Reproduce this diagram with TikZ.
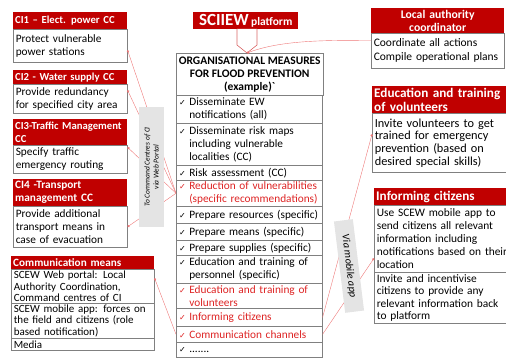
\documentclass[tikz,border=0pt]{standalone}
\usepackage{fontspec}
\setmainfont{Carlito}
\newfontfamily\symfont{DejaVu Sans}
\usepackage{tikz}
\usetikzlibrary{arrows.meta}

\definecolor{hdred}{RGB}{192,0,0}
\definecolor{txtred}{RGB}{222,36,36}
\definecolor{lnred}{RGB}{238,120,120}
\definecolor{boxgray}{RGB}{128,128,128}
\definecolor{lblgray}{RGB}{228,228,228}

\newcommand{\ck}{\llap{{\symfont\fontsize{8}{8}\selectfont ✓}\hspace{3.5pt}}}

\tikzset{
  hdr/.style={fill=hdred, text=white, anchor=north west, align=left,
    inner xsep=2pt, inner ysep=0pt, font=\bfseries\fontsize{10.7}{12.5}\selectfont},
  body/.style={draw=boxgray, line width=0.6pt, fill=white, anchor=north west, align=left,
    inner xsep=2.5pt, inner ysep=0pt, font=\fontsize{11.3}{13}\selectfont},
  row/.style={body, text width=144pt, inner xsep=1pt,
    execute at begin node={\leftskip=12pt\ck}},
  rowred/.style={row, text=txtred},
  conn/.style={draw=lnred, line width=0.4pt, {Circle[length=2.4pt]}-},
  via/.style={fill=lblgray, align=center, inner sep=1pt, font=\itshape\fontsize{7.5}{9}\selectfont},
}

\begin{document}
\begin{tikzpicture}[x=1pt,y=-1pt]
\useasboundingbox (0,0) rectangle (506,358);
\clip (0,0) rectangle (506,358);
% Centros de comando
\node[hdr, text width=110pt, minimum height=17pt] (ci1h) at (13,12) {CI1 -- Elect. power CC};
\node[body, text width=109pt, minimum height=33pt] (ci1b) at (13,29) {Protect vulnerable\\power stations};
\node[hdr, text width=110pt, minimum height=14pt] (ci2h) at (13,70) {CI2 - Water supply CC};
\node[body, text width=109pt, minimum height=29pt] (ci2b) at (13,84) {Provide redundancy\\for specified city area};
\node[hdr, text width=110pt, minimum height=26pt] (ci3h) at (13,119) {CI3-Traffic Management\\CC};
\node[body, text width=109pt, minimum height=28pt] (ci3b) at (13,145) {Specify traffic\\emergency routing};
\node[hdr, text width=110pt, minimum height=27pt, font=\bfseries\fontsize{11.3}{13}\selectfont] (ci4h) at (13,179) {CI4 -Transport\\management CC};
\node[body, text width=109pt, minimum height=41pt] (ci4b) at (13,206) {Provide additional\\transport means in\\case of evacuation};
% Meios de comunicacao
\node[hdr, text width=139pt, minimum height=13pt, font=\bfseries\fontsize{11.2}{12}\selectfont] (cmh) at (11,256) {Communication means};
\node[body, text width=138pt, minimum height=34pt, font=\fontsize{11}{11.7}\selectfont] (cm1) at (11,269) {SCEW Web portal: Local\\Authority Coordination,\\Command centres of CI};
\node[body, text width=138pt, minimum height=35pt, font=\fontsize{11}{11.7}\selectfont] (cm2) at (11,303) {SCEW mobile app: forces on\\the field and citizens (role\\based notification)};
\node[body, text width=138pt, minimum height=12pt, font=\fontsize{11}{11.7}\selectfont] (cm3) at (11,338) {Media};
% Plataforma
\node[fill=hdred, text=white, anchor=north west, minimum width=105pt, minimum height=17pt, inner sep=0pt, font=\bfseries] (sciiew) at (193,12) {{\fontsize{17}{17}\selectfont SCIIEW} {\fontsize{11.5}{11.5}\selectfont platform}};
\coordinate (tip) at (247,53);
\draw[draw=hdred!60, fill=white, line width=0.6pt] (237,29) -- (237,45) -- (tip) -- (257,45) -- (257,29);
% Medidas
\node[body, minimum width=146pt, align=center, minimum height=42pt, font=\bfseries\fontsize{11.5}{13}\selectfont] (om) at (176,53) {ORGANISATIONAL MEASURES\\FOR FLOOD PREVENTION\\(example)\textasciigrave};
\node[row, minimum height=28pt] (r1) at (176,95) {Disseminate EW\\notifications (all)};
\node[row, minimum height=42pt] (r2) at (176,123) {Disseminate risk maps\\including vulnerable\\localities (CC)};
\node[row, minimum height=15pt] (r3) at (176,165) {Risk assessment (CC)};
\node[rowred, minimum height=26pt] (rRed) at (176,180) {Reduction of vulnerabilities\\(specific recommendations)};
\node[row, minimum height=17pt] (r5) at (176,206) {Prepare resources (specific)};
\node[row, minimum height=17pt] (r6) at (176,223) {Prepare means (specific)};
\node[row, minimum height=15pt] (r7) at (176,240) {Prepare supplies (specific)};
\node[row, minimum height=28pt] (r8) at (176,255) {Education and training of\\personnel (specific)};
\node[rowred, minimum height=25pt] (rVol) at (176,283) {Education and training of\\volunteers};
\node[rowred, minimum height=18pt] (rInf) at (176,308) {Informing citizens};
\node[rowred, minimum height=16pt] (rComm) at (176,326) {Communication channels};
\node[row, minimum height=15pt] (r12) at (176,342) {.......};
% Coordenador e cidadaos
\node[hdr, align=center, text width=129pt, minimum height=25pt, font=\bfseries\fontsize{11.7}{12.5}\selectfont] (lah) at (371,8) {Local authority\\coordinator};
\node[body, text width=128pt, minimum height=35pt, font=\fontsize{11.5}{14}\selectfont] (lab) at (371,33) {Coordinate all actions\\Compile operational plans};
\node[hdr, text width=156pt, minimum height=27pt, font=\bfseries\fontsize{13.2}{14}\selectfont] (evh) at (372,86) {Education and training\\of volunteers};
\node[body, text width=155pt, minimum height=59pt, font=\fontsize{12.3}{12.7}\selectfont] (evb) at (372,113) {Invite volunteers to get\\trained for emergency\\prevention (based on\\desired special skills)};
\node[hdr, text width=156pt, minimum height=17pt, font=\bfseries\fontsize{13.2}{14}\selectfont] (ich) at (374,188) {Informing citizens};
\node[body, text width=155pt, minimum height=67pt, font=\fontsize{11.4}{13}\selectfont] (icb1) at (374,205) {Use SCEW mobile app to\\send citizens all relevant\\information including\\notifications based on their\\location};
\node[body, text width=155pt, minimum height=51pt, font=\fontsize{11.4}{12.4}\selectfont] (icb2) at (374,272) {Invite and incentivise\\citizens to provide any\\relevant information back\\to platform};
% Ligacoes
\draw[conn] ([yshift=-4.5pt]ci1b.east) -- (rRed.west);
\draw[conn] ([yshift=8.5pt]ci2b.east) -- (rRed.west);
\draw[conn] ([yshift=12pt]ci3b.east) -- (rRed.west);
\draw[conn] (ci4b.east) -- (rRed.west);
\draw[conn] ([yshift=8pt]cm1.east) -- (rComm.west);
\draw[conn] ([yshift=8.5pt]evb.west) -- (rInf.east);
\draw[conn] ([yshift=-19.5pt]icb1.west) -- (rComm.east);
\draw[conn] (tip) .. controls +(35,-13) and +(-45,0) .. ([yshift=10.5pt]lab.west);
% Canais
\node[via, rotate=90, minimum width=120pt, minimum height=25pt] (webvia) at (151.5,167) {To Command Centres of CI\\via Web Portal};
\node[via, rotate=-83, minimum width=92pt, minimum height=19pt, font=\itshape\fontsize{10.5}{12}\selectfont] (mobvia) at (349,266) {Via mobile app};
\end{tikzpicture}
\end{document}
